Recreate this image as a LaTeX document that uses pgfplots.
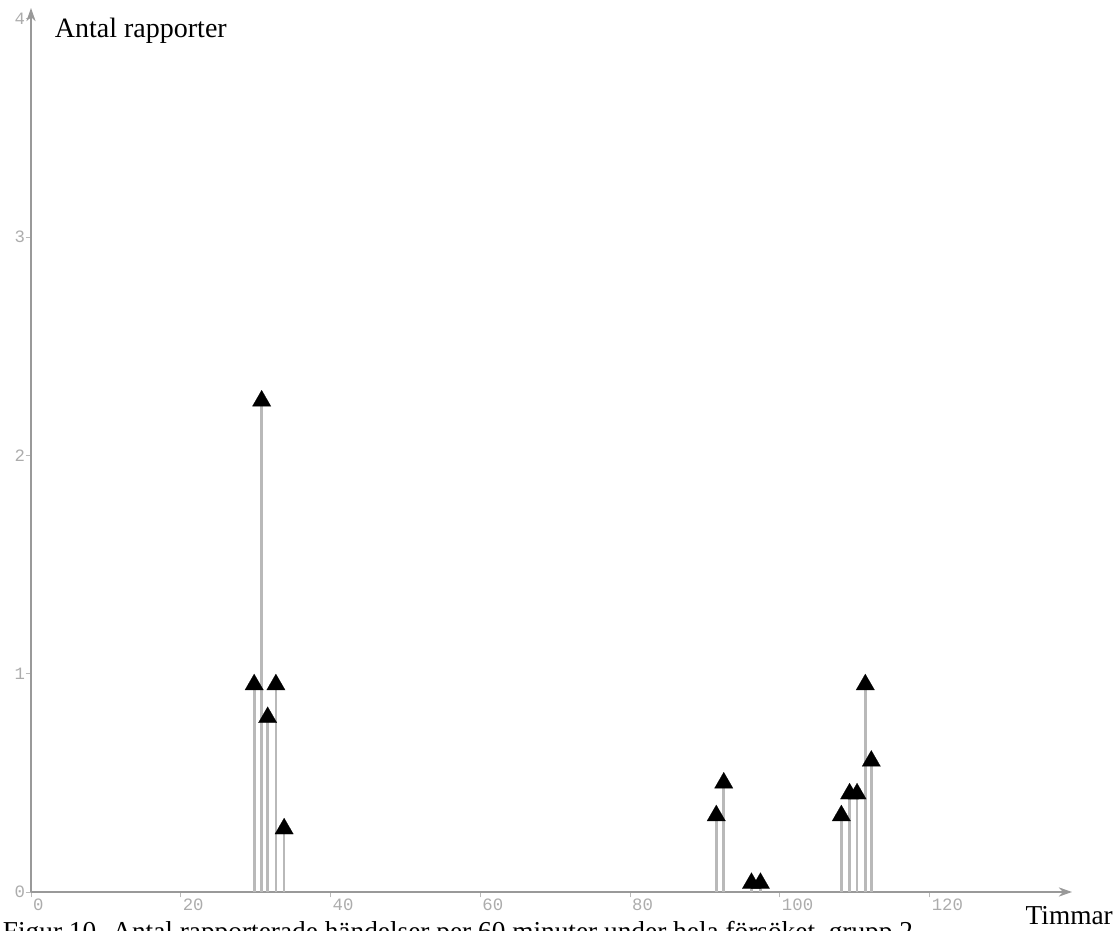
\documentclass[border=0pt]{standalone}
\usepackage{fontspec}
\setmainfont{Liberation Serif}
\newfontfamily\tickfont{Liberation Mono}
\usepackage{pgfplots}
\pgfplotsset{compat=1.18}
\usetikzlibrary{arrows.meta}
\begin{document}
\begin{tikzpicture}[x=1pt,y=1pt]
\begin{axis}[
  at={(0,0)}, anchor=south west,
  scale only axis, width=780.75pt, height=663pt,
  xmin=0, xmax=139, ymin=0, ymax=4.05,
  axis lines=left,
  axis line style={draw=gray!80, line width=1.1pt, -{Stealth[length=10pt,width=7pt]}},
  xtick={0,20,...,120}, ytick={0,1,2,3,4},
  tick align=outside, major tick length=4pt,
  tick style={draw=gray!55, line width=0.7pt},
  ticklabel style={font=\tickfont\fontsize{13}{13}\selectfont, text=gray!65},
  /pgf/number format/assume math mode=true,
  xticklabel style={anchor=north west, xshift=-2pt, yshift=2.5pt},
  yticklabel style={xshift=3pt},
  clip=false,
]
\addplot[ycomb, draw=gray!55, line width=2pt, mark=triangle*, mark size=8pt,
  mark options={draw=black, fill=black, line width=0.1pt}] coordinates {
  (29.8,0.95) (30.8,2.25) (31.6,0.80) (32.7,0.95) (33.8,0.29)
  (91.5,0.35) (92.5,0.50)
  (96.2,0.04) (97.4,0.04)
  (108.2,0.35) (109.3,0.45) (110.3,0.45) (111.4,0.95) (112.2,0.60)
};
\end{axis}
\node[anchor=base west, inner sep=0pt, font=\fontsize{21}{21}\selectfont] at (17.75,640.5) {Antal rapporter};
\node[anchor=base east, inner sep=0pt, font=\fontsize{20.5}{20.5}\selectfont] at (811.5,-24.75) {Timmar};
\node[anchor=base west, inner sep=0pt, font=\fontsize{20.5}{20.5}\selectfont] at (-21.25,-36.5) {Figur 10. Antal rapporterade händelser per 60 minuter under hela försöket, grupp 2};
\pgfresetboundingbox
\useasboundingbox (-23.25,-29.25) rectangle (814.5,669);
\end{tikzpicture}
\end{document}
